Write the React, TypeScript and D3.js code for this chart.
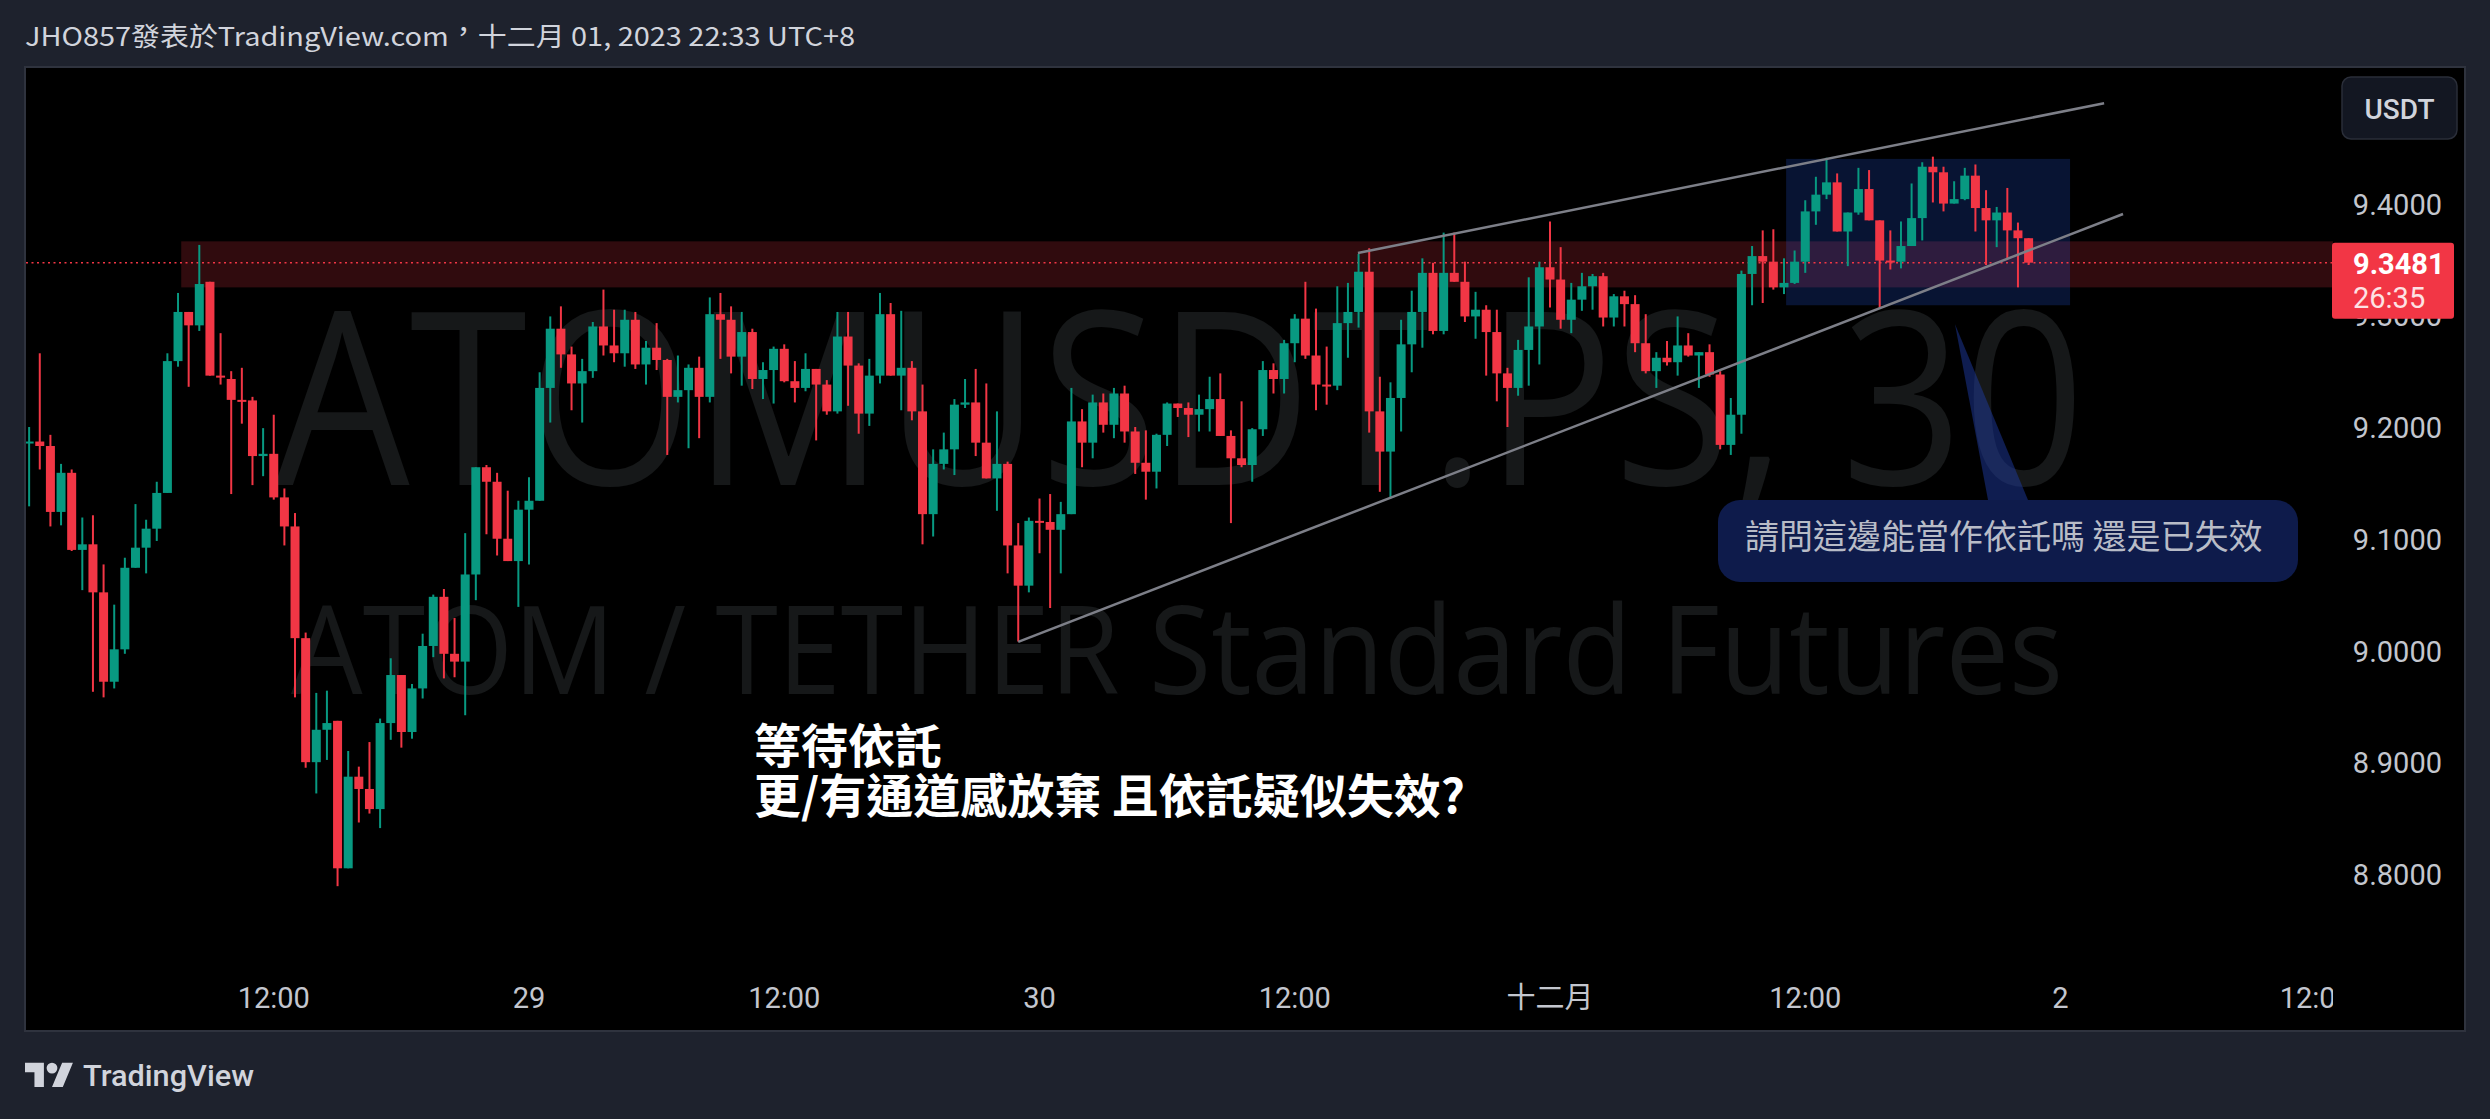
import { useEffect } from "react";
import * as d3 from "d3";

// 30 minute candles, ATOMUSDT.PS, first candle opens 28 Nov 00:30 (UTC+8)
const firstHour = 0.5;
const stepHours = 0.5;

const opens = [
  9.1875, 9.188, 9.184, 9.125, 9.16, 9.091, 9.096, 9.053, 8.973, 9.002,
  9.075, 9.093, 9.11, 9.142, 9.26, 9.304, 9.292, 9.331, 9.247, 9.244,
  9.2253, 9.2248, 9.175, 9.177, 9.138, 9.112, 9.012, 8.901, 8.93, 8.938,
  8.806, 8.888, 8.877, 8.859, 8.936, 8.979, 8.928, 8.967, 9.005, 9.049,
  8.998, 8.991, 9.069, 9.165, 9.152, 9.101, 9.081, 9.127, 9.135, 9.236,
  9.289, 9.266, 9.24, 9.251, 9.291, 9.274, 9.267, 9.297, 9.257, 9.272,
  9.261, 9.228, 9.234, 9.254, 9.228, 9.302, 9.297, 9.264, 9.286, 9.244,
  9.252, 9.271, 9.242, 9.236, 9.253, 9.239, 9.215, 9.282, 9.256, 9.213,
  9.247, 9.302, 9.247, 9.254, 9.215, 9.123, 9.168, 9.181, 9.221, 9.223,
  9.187, 9.155, 9.168, 9.095, 9.059, 9.117, 9.116, 9.109, 9.123, 9.206,
  9.187, 9.223, 9.203, 9.231, 9.197, 9.169, 9.161, 9.194, 9.222, 9.218,
  9.212, 9.217, 9.226, 9.193, 9.173, 9.167, 9.199, 9.252, 9.244, 9.276,
  9.298, 9.265, 9.239, 9.238, 9.294, 9.304, 9.34, 9.215, 9.179, 9.227,
  9.275, 9.304, 9.339, 9.287, 9.339, 9.331, 9.3, 9.306, 9.286, 9.249,
  9.236, 9.27, 9.291, 9.344, 9.333, 9.297, 9.315, 9.327, 9.336, 9.299,
  9.318, 9.311, 9.276, 9.251, 9.263, 9.259, 9.274, 9.265, 9.268, 9.248,
  9.185, 9.212, 9.338, 9.354, 9.349, 9.326, 9.33, 9.349, 9.394, 9.409,
  9.42, 9.376, 9.393, 9.414, 9.386, 9.35, 9.349, 9.363, 9.388, 9.434,
  9.429, 9.401, 9.405, 9.426, 9.397, 9.386, 9.393, 9.377, 9.37,
];

const highs = [
  9.201, 9.267, 9.194, 9.168, 9.163, 9.12, 9.122, 9.078, 9.042, 9.084,
  9.132, 9.118, 9.152, 9.267, 9.321, 9.304, 9.364, 9.331, 9.285, 9.251,
  9.254, 9.228, 9.2, 9.212, 9.146, 9.124, 9.017, 8.963, 8.965, 8.938,
  8.911, 8.897, 8.919, 8.94, 8.994, 8.979, 8.971, 9.016, 9.051, 9.056,
  9.03, 9.106, 9.165, 9.167, 9.16, 9.144, 9.135, 9.156, 9.25, 9.3,
  9.309, 9.273, 9.262, 9.295, 9.324, 9.306, 9.306, 9.304, 9.278, 9.294,
  9.262, 9.265, 9.257, 9.264, 9.317, 9.321, 9.309, 9.304, 9.289, 9.259,
  9.273, 9.275, 9.26, 9.267, 9.253, 9.243, 9.304, 9.304, 9.258, 9.262,
  9.321, 9.312, 9.305, 9.26, 9.239, 9.181, 9.196, 9.226, 9.244, 9.253,
  9.24, 9.215, 9.17, 9.115, 9.12, 9.137, 9.141, 9.134, 9.236, 9.217,
  9.23, 9.231, 9.236, 9.238, 9.201, 9.198, 9.195, 9.223, 9.222, 9.223,
  9.23, 9.246, 9.249, 9.198, 9.224, 9.2, 9.26, 9.258, 9.279, 9.302,
  9.331, 9.307, 9.273, 9.327, 9.33, 9.356, 9.361, 9.246, 9.241, 9.297,
  9.323, 9.352, 9.348, 9.375, 9.375, 9.349, 9.322, 9.31, 9.306, 9.254,
  9.279, 9.335, 9.349, 9.385, 9.362, 9.33, 9.339, 9.338, 9.339, 9.32,
  9.323, 9.319, 9.302, 9.268, 9.278, 9.3, 9.285, 9.268, 9.275, 9.251,
  9.227, 9.341, 9.363, 9.377, 9.378, 9.352, 9.359, 9.404, 9.425, 9.442,
  9.428, 9.393, 9.433, 9.431, 9.386, 9.377, 9.385, 9.419, 9.438, 9.443,
  9.434, 9.421, 9.433, 9.436, 9.413, 9.398, 9.415, 9.384, 9.37,
];

const lows = [
  9.13, 9.163, 9.112, 9.113, 9.09, 9.055, 8.964, 8.959, 8.967, 8.998,
  9.075, 9.07, 9.099, 9.142, 9.255, 9.237, 9.287, 9.247, 9.239, 9.141,
  9.204, 9.149, 9.157, 9.136, 9.095, 8.959, 8.896, 8.873, 8.903, 8.79,
  8.806, 8.847, 8.855, 8.842, 8.921, 8.914, 8.922, 8.958, 8.995, 8.976,
  8.977, 8.943, 9.046, 9.105, 9.086, 9.081, 9.04, 9.078, 9.135, 9.205,
  9.254, 9.216, 9.205, 9.245, 9.265, 9.259, 9.255, 9.253, 9.239, 9.252,
  9.176, 9.223, 9.182, 9.191, 9.223, 9.262, 9.249, 9.238, 9.235, 9.226,
  9.222, 9.241, 9.223, 9.233, 9.189, 9.212, 9.213, 9.22, 9.195, 9.202,
  9.24, 9.247, 9.216, 9.207, 9.096, 9.103, 9.163, 9.158, 9.218, 9.175,
  9.155, 9.126, 9.07, 9.009, 9.053, 9.088, 9.039, 9.07, 9.123, 9.165,
  9.173, 9.196, 9.191, 9.187, 9.159, 9.136, 9.146, 9.184, 9.21, 9.192,
  9.197, 9.197, 9.193, 9.115, 9.165, 9.152, 9.193, 9.231, 9.231, 9.259,
  9.262, 9.216, 9.221, 9.234, 9.263, 9.29, 9.196, 9.143, 9.137, 9.197,
  9.25, 9.272, 9.284, 9.284, 9.331, 9.295, 9.28, 9.247, 9.224, 9.201,
  9.229, 9.238, 9.257, 9.308, 9.289, 9.285, 9.305, 9.306, 9.291, 9.291,
  9.291, 9.268, 9.249, 9.236, 9.256, 9.247, 9.264, 9.236, 9.246, 9.181,
  9.176, 9.195, 9.31, 9.312, 9.324, 9.32, 9.329, 9.339, 9.382, 9.405,
  9.376, 9.345, 9.391, 9.386, 9.307, 9.342, 9.343, 9.363, 9.368, 9.402,
  9.394, 9.401, 9.404, 9.376, 9.346, 9.362, 9.352, 9.326, 9.346,
];

const closes = [
  9.188, 9.184, 9.125, 9.16, 9.091, 9.096, 9.053, 8.973, 9.002, 9.075,
  9.093, 9.11, 9.142, 9.26, 9.304, 9.292, 9.329, 9.247, 9.246, 9.2253,
  9.2248, 9.175, 9.177, 9.138, 9.112, 9.012, 8.901, 8.93, 8.936, 8.806,
  8.888, 8.877, 8.859, 8.936, 8.979, 8.928, 8.967, 9.005, 9.049, 8.998,
  8.991, 9.069, 9.165, 9.152, 9.101, 9.081, 9.127, 9.135, 9.236, 9.289,
  9.266, 9.24, 9.251, 9.291, 9.274, 9.267, 9.297, 9.257, 9.272, 9.261,
  9.228, 9.234, 9.254, 9.228, 9.302, 9.297, 9.264, 9.286, 9.244, 9.252,
  9.271, 9.242, 9.236, 9.253, 9.239, 9.215, 9.282, 9.256, 9.213, 9.247,
  9.302, 9.247, 9.254, 9.215, 9.123, 9.168, 9.181, 9.221, 9.223, 9.187,
  9.155, 9.168, 9.095, 9.059, 9.117, 9.116, 9.109, 9.123, 9.206, 9.187,
  9.223, 9.203, 9.231, 9.197, 9.169, 9.161, 9.194, 9.222, 9.218, 9.212,
  9.217, 9.226, 9.193, 9.173, 9.167, 9.199, 9.252, 9.244, 9.276, 9.298,
  9.265, 9.239, 9.238, 9.294, 9.304, 9.34, 9.215, 9.179, 9.227, 9.275,
  9.304, 9.339, 9.287, 9.339, 9.331, 9.3, 9.306, 9.286, 9.249, 9.236,
  9.27, 9.291, 9.344, 9.333, 9.297, 9.315, 9.327, 9.336, 9.299, 9.318,
  9.311, 9.276, 9.251, 9.263, 9.259, 9.274, 9.265, 9.268, 9.248, 9.185,
  9.212, 9.338, 9.354, 9.349, 9.326, 9.33, 9.349, 9.394, 9.409, 9.42,
  9.376, 9.393, 9.414, 9.386, 9.35, 9.349, 9.363, 9.388, 9.434, 9.429,
  9.401, 9.405, 9.426, 9.397, 9.386, 9.393, 9.377, 9.37, 9.3481,
];

const priceTicks = [9.4, 9.3, 9.2, 9.1, 9.0, 8.9, 8.8];
const timeTickHours = [12, 24, 36, 48, 60, 72, 84, 96, 108];
const timeTickLabels = ["12:00", "29", "12:00", "30", "12:00", "十二月", "12:00", "2", "12:00"];

const lastPrice = 9.3481;
const countdown = "26:35";

// drawings, as [hour, price]
const zoneStartHour = 7.65;
const zonePrices = [9.3672, 9.326];
const boxHours = [83.1, 96.45];
const boxPrices = [9.441, 9.31];
const lowerLine = [[47.0, 9.0086], [98.94, 9.3917]];
const upperLine = [[62.97, 9.3567], [98.05, 9.4909]];
const calloutTip = [91.04, 9.293];

const UP = "#089981";
const DOWN = "#f23645";

export default function App() {
  useEffect(() => {
    document.body.style.margin = "0";
    document.body.style.background = "#1e222d";
  }, []);

  const W = 2490;
  const H = 1119;
  const panel = { left: 25, top: 67, right: 2465, bottom: 1031 };
  const plot = { left: 26, top: 68, right: 2333, bottom: 961 };

  const x = d3.scaleLinear().domain([0, 96]).range([18.5, 2060.5]);
  const y = d3.scaleLinear().domain([8.8, 9.4]).range([875, 204.7]);

  const candles = closes.map((c, i) => ({
    t: firstHour + i * stepHours,
    o: opens[i],
    h: highs[i],
    l: lows[i],
    c,
  }));

  const bodyW = 9;
  const line = d3.line<number[]>().x(d => x(d[0])).y(d => y(d[1]));
  const fmt = d3.format(".4f");
  const axisFont = "Roboto, 'Liberation Sans', sans-serif";
  const cjk = "'Noto Sans CJK TC', 'Noto Sans', sans-serif";

  const tipX = x(calloutTip[0]);
  const tipY = y(calloutTip[1]);

  return (
    <div style={{ position: "absolute", left: 0, top: 0 }}>
      <svg width={W} height={H} viewBox={`0 0 ${W} ${H}`} style={{ display: "block" }}>
        <defs>
          <clipPath id="plotClip">
            <rect x={plot.left} y={plot.top} width={plot.right - plot.left} height={plot.bottom - plot.top} />
          </clipPath>
          <clipPath id="timeClip">
            <rect x={plot.left} y={plot.bottom} width={plot.right - plot.left} height={panel.bottom - plot.bottom} />
          </clipPath>
        </defs>

        <rect width={W} height={H} fill="#1e222d" />

        {/* header */}
        <text x={25} y={46} fill="#d1d4dc" fontSize={26} fontFamily={cjk} textLength={830} lengthAdjust="spacingAndGlyphs">
          JHO857發表於TradingView.com<tspan dy={-5}>，</tspan><tspan dy={5}>十二月 01, 2023 22:33 UTC+8</tspan>
        </text>

        {/* chart panel */}
        <rect x={panel.left} y={panel.top} width={panel.right - panel.left} height={panel.bottom - panel.top}
          fill="#000000" stroke="#2f333e" strokeWidth={2} />

        <g clipPath="url(#plotClip)">
          {/* watermark */}
          <text x={1180} y={485} textAnchor="middle" fill="#161819" fontSize={242}
            fontFamily="'Open Sans', 'Noto Sans', sans-serif" textLength={1810} lengthAdjust="spacingAndGlyphs">
            ATOMUSDT.PS, 30
          </text>
          <text x={1177} y={694} textAnchor="middle" fill="#161819" fontSize={122}
            fontFamily="'Open Sans', 'Noto Sans', sans-serif" textLength={1772} lengthAdjust="spacingAndGlyphs">
            ATOM / TETHER Standard Futures
          </text>

          {/* support zone */}
          <rect x={x(zoneStartHour)} y={y(zonePrices[0])} width={plot.right - x(zoneStartHour)}
            height={y(zonePrices[1]) - y(zonePrices[0])} fill="rgba(242,54,69,0.2)" />

          {/* consolidation box */}
          <rect x={x(boxHours[0])} y={y(boxPrices[0])} width={x(boxHours[1]) - x(boxHours[0])}
            height={y(boxPrices[1]) - y(boxPrices[0])} fill="rgba(41,98,255,0.2)" />

          {/* last price line */}
          <line x1={plot.left} x2={plot.right} y1={y(lastPrice)} y2={y(lastPrice)}
            stroke={DOWN} strokeWidth={1.5} strokeDasharray="2 3.5" />

          {/* candles */}
          {candles.map((d, i) => {
            const color = d.c >= d.o ? UP : DOWN;
            const cx = x(d.t);
            const top = y(Math.max(d.o, d.c));
            const bot = y(Math.min(d.o, d.c));
            return (
              <g key={i}>
                <line x1={cx} x2={cx} y1={y(d.h)} y2={y(d.l)} stroke={color} strokeWidth={2} />
                <rect x={cx - bodyW / 2} y={top} width={bodyW} height={Math.max(bot - top, 2)} fill={color} />
              </g>
            );
          })}

          {/* trend lines */}
          <path d={line(lowerLine) ?? ""} stroke="#7d7f88" strokeWidth={2.5} fill="none" />
          <path d={line(upperLine) ?? ""} stroke="#7d7f88" strokeWidth={2.5} fill="none" />

          {/* notes */}
          <text x={754} y={763} fill="#ffffff" fontSize={47} fontWeight={700} fontFamily={cjk}>等待依託</text>
          <text x={754} y={813} fill="#ffffff" fontSize={47} fontWeight={700} fontFamily={cjk}>更/有通道感放棄 且依託疑似失效?</text>

          {/* callout */}
          <path d={`M${tipX},${tipY} L1988,500 L2028,500 Z`} fill="rgba(30,58,160,0.5)" />
          <rect x={1718} y={500} width={580} height={82} rx={22} fill="#0e1b4b" />
          <text x={1745} y={549} fill="#b8bcc7" fontSize={34} fontFamily={cjk}>請問這邊能當作依託嗎 還是已失效</text>
        </g>

        {/* price axis */}
        {priceTicks.map(p => (
          <text key={p} x={2442} y={y(p) + 10} textAnchor="end" fill="#c3c6ce" fontSize={29} fontFamily={axisFont}>
            {fmt(p)}
          </text>
        ))}

        <rect x={2342} y={77} width={115} height={62} rx={9} fill="#131722" stroke="#2a2e39" strokeWidth={1.5} />
        <text x={2399.5} y={119} textAnchor="middle" fill="#d1d4dc" fontSize={28} fontWeight={500} fontFamily={axisFont}>USDT</text>

        <rect x={2332} y={y(lastPrice) - 20} width={122} height={76} rx={3} fill={DOWN} />
        <text x={2353} y={y(lastPrice) + 11} fill="#ffffff" fontSize={29} fontWeight={700} fontFamily={axisFont}>{fmt(lastPrice)}</text>
        <text x={2353} y={y(lastPrice) + 45} fill="#fde2e4" fontSize={29} fontFamily={axisFont}>{countdown}</text>

        {/* time axis */}
        <g clipPath="url(#timeClip)">
          {timeTickHours.map((t, i) => (
            <text key={t} x={x(t)} y={1008} textAnchor="middle" fill="#c3c6ce" fontSize={29}
              fontFamily={i === 5 ? cjk : axisFont}>
              {timeTickLabels[i]}
            </text>
          ))}
        </g>

        {/* footer logo */}
        <g transform="translate(25,1057.3) scale(1.35)" fill="#d1d4dc">
          <path d="M14 22H7V11H0V4h14v18zM28 22h-8l7.5-18h8L28 22z" />
          <circle cx={20} cy={8} r={4} />
        </g>
        <text x={83} y={1086} fill="#d1d4dc" fontSize={30} fontWeight={500} fontFamily={axisFont}
          textLength={171} lengthAdjust="spacingAndGlyphs">TradingView</text>
      </svg>
    </div>
  );
}
